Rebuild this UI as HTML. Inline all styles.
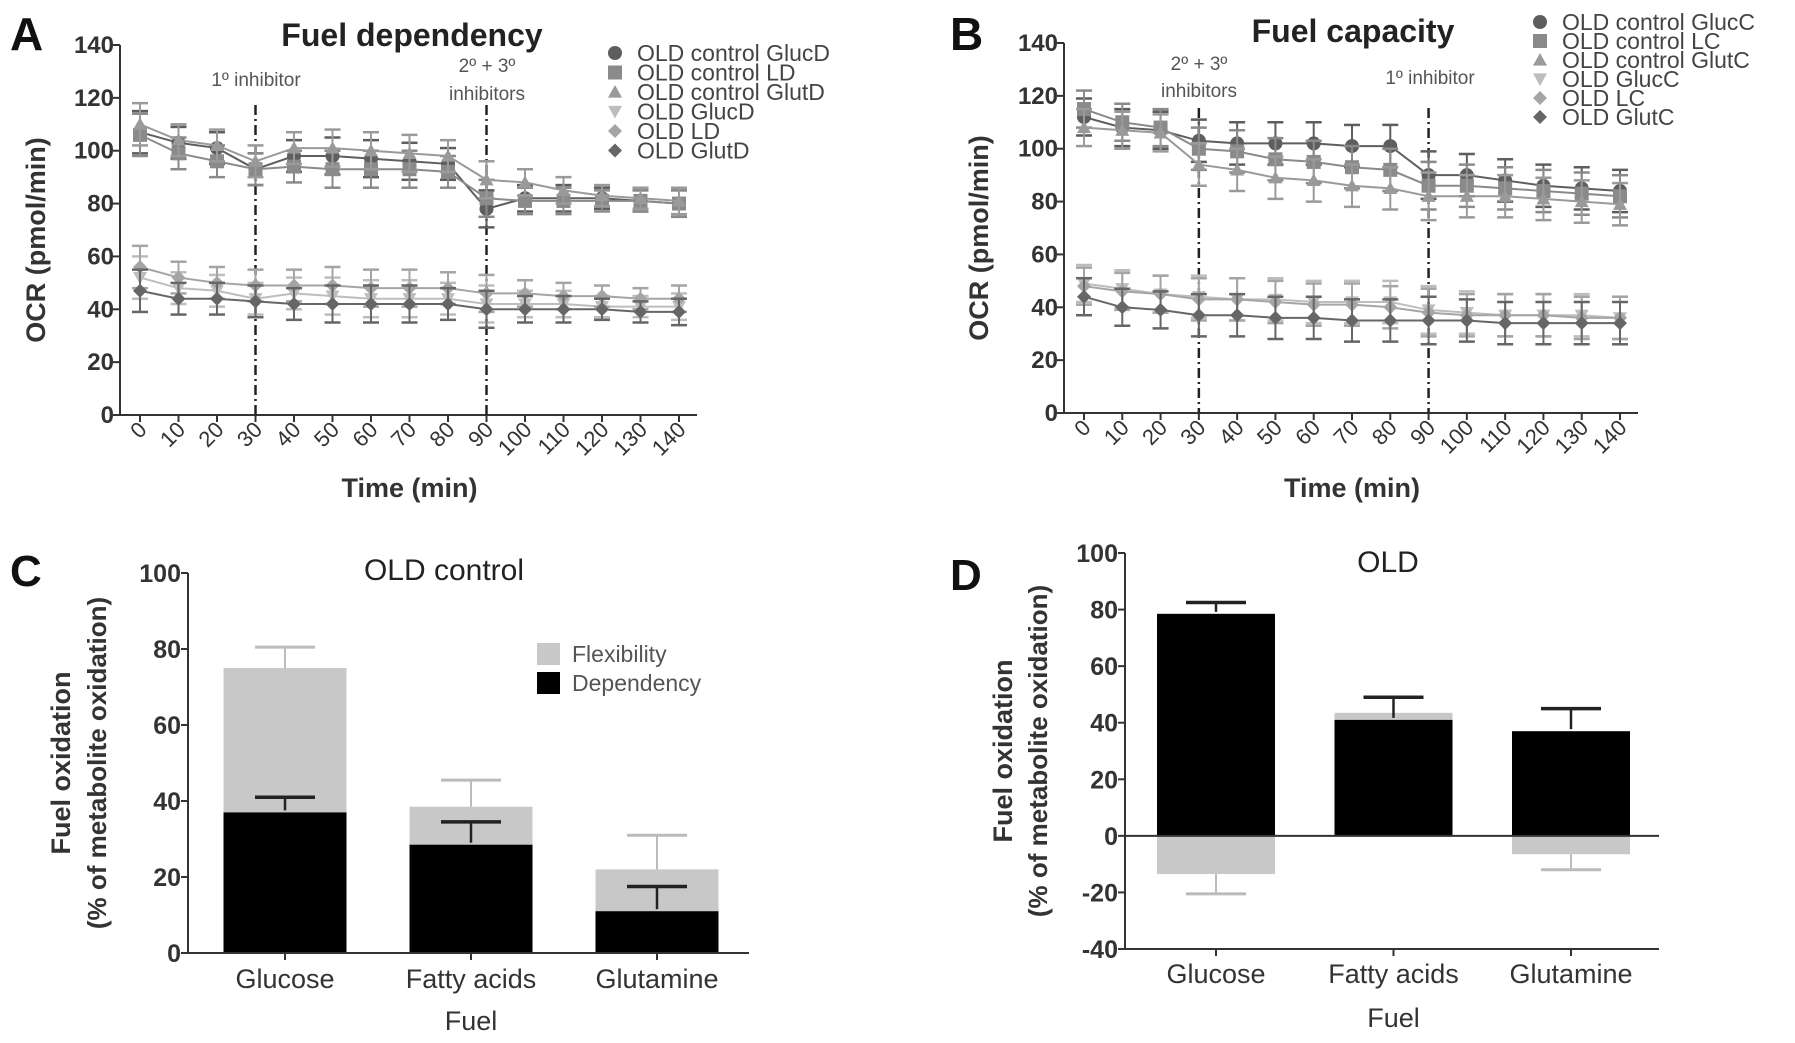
<!DOCTYPE html>
<html><head><meta charset="utf-8"><style>
html,body{margin:0;padding:0;background:#fff;}
svg{display:block;font-family:"Liberation Sans",Arial,sans-serif;}
</style></head><body>
<svg id="fig" width="1795" height="1043" viewBox="0 0 1795 1043" xmlns="http://www.w3.org/2000/svg"></svg>
<script>
// ---------- Panel A data ----------
const timesA = [0,10,20,30,40,50,60,70,80,90,100,110,120,130,140];
const aNames = ["OLD control GlucD","OLD control LD","OLD control GlutD","OLD GlucD","OLD LD","OLD GlutD"];
const aCtrlGluc = [107,103,101,93,98,98,97,96,95,78,82,82,82,81,80];
const aCtrlL    = [106,99,96,93,94,93,93,93,92,82,81,81,81,81,80];
const aCtrlGlut = [110,104,102,96,101,101,100,99,98,89,88,85,83,82,81];
const aOldGluc  = [52,48,47,44,46,45,44,44,44,42,42,42,41,41,41];
const aOldL     = [56,52,50,49,49,49,48,48,48,46,46,45,45,44,44];
const aOldGlut  = [47,44,44,43,42,42,42,42,42,40,40,40,40,39,39];
const aErr      = [8,6,6,6,6,7,7,7,6,7,5,5,4,4,5];
// ---------- Panel B data ----------
const bNames = ["OLD control GlucC","OLD control LC","OLD control GlutC","OLD GlucC","OLD LC","OLD GlutC"];
const bCtrlGluc = [112,108,107,103,102,102,102,101,101,90,90,88,86,85,84];
const bCtrlL    = [115,110,108,100,99,96,95,93,92,86,86,85,84,83,82];
const bCtrlGlut = [108,107,106,94,92,89,88,86,85,82,82,82,81,80,79];
const bOldGluc  = [49,47,45,44,43,43,42,42,42,39,38,37,37,37,36];
const bOldL     = [48,46,45,43,43,42,41,41,40,38,37,37,37,36,36];
const bOldGlut  = [44,40,39,37,37,36,36,35,35,35,35,34,34,34,34];
const bErr      = [7,7,7,8,8,8,8,8,8,9,8,8,8,8,8];
const yTicksAB = [0,20,40,60,80,100,120,140];
// ---------- Panel C data ----------
const fuels = ["Glucose","Fatty acids","Glutamine"];
const cDependency = [37,28.5,11];
const cFlexibility = [38,10,11];
const cDepErr = [4,6,6.5];
const cTotErr = [5.5,7,9];
const yTicksC = [0,20,40,60,80,100];
// ---------- Panel D data ----------
const dDependency = [78.5,41,37];
const dFlexibility = [-13.5,2.5,-6.5];
const dDepErr = [4,8,8];
const dFlexErr = [-7,0,-5.5];
const yTicksD = [-40,-20,0,20,40,60,80,100];

const NS="http://www.w3.org/2000/svg";
const svg=document.getElementById('fig');
function el(tag,attrs,parent){const e=document.createElementNS(NS,tag);for(const k in attrs)e.setAttribute(k,attrs[k]);(parent||svg).appendChild(e);return e;}
function txt(s,attrs,parent){const e=el('text',attrs,parent);e.textContent=s;return e;}

const seriesStyle=[
 {shape:'circle',color:'#5e5e5e'},{shape:'square',color:'#8a8a8a'},{shape:'tri',color:'#9a9a9a'},
 {shape:'itri',color:'#bdbdbd'},{shape:'diamond',color:'#a5a5a5'},{shape:'diamond',color:'#666'}];
function marker(shape,x,y,c,g,r){
  r=r||7;
  if(shape==='circle')return el('circle',{cx:x,cy:y,r:r,fill:c},g);
  if(shape==='square')return el('rect',{x:x-r,y:y-r,width:2*r,height:2*r,fill:c},g);
  if(shape==='tri')return el('polygon',{points:`${x},${y-r} ${x+r},${y+r*0.8} ${x-r},${y+r*0.8}`,fill:c},g);
  if(shape==='itri')return el('polygon',{points:`${x},${y+r} ${x+r},${y-r*0.8} ${x-r},${y-r*0.8}`,fill:c},g);
  return el('polygon',{points:`${x},${y-r} ${x+r},${y} ${x},${y+r} ${x-r},${y}`,fill:c},g);
}

function linePanel(cfg){
  const g=el('g',{});
  
  
  const X=t=>cfg.x0+(t-0)/140*(cfg.x1-cfg.x0);
  const Y=v=>cfg.y0-(v/140)*(cfg.y0-cfg.y140);
  const ax=el('line',{x1:cfg.ax,y1:cfg.y140,x2:cfg.ax,y2:cfg.y0,stroke:'#333','stroke-width':2},g);
  
  const xa=el('line',{x1:cfg.ax,y1:cfg.y0,x2:cfg.xend,y2:cfg.y0,stroke:'#333','stroke-width':2},g);
  
  yTicksAB.forEach(v=>{
    el('line',{x1:cfg.ax-7,y1:Y(v),x2:cfg.ax,y2:Y(v),stroke:'#333','stroke-width':2},g);
    const t=txt(String(v),{x:cfg.ax-6,y:Y(v)+8,'text-anchor':'end','font-size':24,'font-weight':'bold',fill:'#333'},g);
    
  });
  timesA.forEach(v=>{
    el('line',{x1:X(v),y1:cfg.y0,x2:X(v),y2:cfg.y0+7,stroke:'#333','stroke-width':2},g);
    const t=txt(String(v),{x:0,y:0,'text-anchor':'end','font-size':22,fill:'#333',transform:`translate(${X(v)+8},${cfg.y0+16}) rotate(-45)`},g);
    
  });
  cfg.vlines.forEach(v=>{
    const l=el('line',{x1:X(v),y1:cfg.vtop,x2:X(v),y2:cfg.y0,stroke:'#222','stroke-width':2.5,'stroke-dasharray':'10,4,2,4'},g);
    
  });
  cfg.notes.forEach(n=>{const t=txt(n.s,{x:n.x,y:n.y,'text-anchor':'middle','font-size':19,fill:'#555'},g);
    });
  cfg.series.forEach((s,i)=>{
    const st=seriesStyle[i];
    const sg=el('g',{},g);
    
    
    el('polyline',{points:s.map((v,j)=>X(timesA[j])+','+Y(v)).join(' '),fill:'none',stroke:st.color,'stroke-width':2},sg);
    s.forEach((v,j)=>{
      const e=cfg.err[j],x=X(timesA[j]);
      el('line',{x1:x,y1:Y(v-e),x2:x,y2:Y(v+e),stroke:st.color,'stroke-width':2},sg);
      el('line',{x1:x-8,y1:Y(v-e),x2:x+8,y2:Y(v-e),stroke:st.color,'stroke-width':2.5},sg);
      el('line',{x1:x-8,y1:Y(v+e),x2:x+8,y2:Y(v+e),stroke:st.color,'stroke-width':2.5},sg);
      const m=marker(st.shape,x,Y(v),st.color,sg);
      
    });
  });
  cfg.names.forEach((n,i)=>{
    const lg=el('g',{},g);
    
    const y=cfg.legY+i*cfg.legDy;
    marker(seriesStyle[i].shape,cfg.legX,y,seriesStyle[i].color,lg,7);
    txt(n,{x:cfg.legX+22,y:y+8,'font-size':23,fill:'#444'},lg);
  });
  const ti=txt(cfg.title,{x:cfg.titleX,y:cfg.titleY,'text-anchor':'middle','font-size':32,'font-weight':'bold',fill:'#222'},g);
  
  const pl=txt(cfg.letter,{x:cfg.letterX,y:cfg.letterY,'font-size':46,'font-weight':'bold',fill:'#111'},g);
  
  const yt=txt('OCR (pmol/min)',{x:0,y:0,'text-anchor':'middle','font-size':27,'font-weight':'bold',fill:'#333',transform:`translate(${cfg.ytX},${(cfg.y0+cfg.y140)/2+10}) rotate(-90)`},g);
  
  const xt=txt('Time (min)',{x:(cfg.x0+cfg.x1)/2,y:cfg.xtY,'text-anchor':'middle','font-size':27,'font-weight':'bold',fill:'#333'},g);
  
}

linePanel({name:'panel-a-fuel-dependency',ax:120,x0:140,x1:679,xend:697,y0:415,y140:45,vtop:105,
  vlines:[30,90],notes:[{s:'1º inhibitor',x:256,y:86},{s:'2º + 3º',x:487,y:72},{s:'inhibitors',x:487,y:100}],
  series:[aCtrlGluc,aCtrlL,aCtrlGlut,aOldGluc,aOldL,aOldGlut],err:aErr,names:aNames,
  legX:615,legY:53,legDy:19.5,title:'Fuel dependency',titleX:412,titleY:46,letter:'A',letterX:10,letterY:50,ytX:45,xtY:497});
linePanel({name:'panel-b-fuel-capacity',ax:1064,x0:1084,x1:1620,xend:1638,y0:413,y140:43,vtop:108,
  vlines:[30,90],notes:[{s:'2º + 3º',x:1199,y:70},{s:'inhibitors',x:1199,y:97},{s:'1º inhibitor',x:1430,y:84}],
  series:[bCtrlGluc,bCtrlL,bCtrlGlut,bOldGluc,bOldL,bOldGlut],err:bErr,names:bNames,
  legX:1540,legY:22,legDy:19,title:'Fuel capacity',titleX:1353,titleY:42,letter:'B',letterX:950,letterY:50,ytX:988,xtY:497});

function barPanel(cfg){
  const g=el('g',{});
  
  
  const Y=v=>cfg.yTop+(cfg.max-v)*(cfg.yBot-cfg.yTop)/(cfg.max-cfg.min);
  const X=i=>cfg.cx0+i*cfg.dx;
  const ya=el('line',{x1:cfg.ax,y1:Y(cfg.max),x2:cfg.ax,y2:Y(cfg.min),stroke:'#333','stroke-width':2},g);
  
  cfg.ticks.forEach(v=>{
    el('line',{x1:cfg.ax-7,y1:Y(v),x2:cfg.ax,y2:Y(v),stroke:'#333','stroke-width':2},g);
    const t=txt(String(v),{x:cfg.ax-7,y:Y(v)+9,'text-anchor':'end','font-size':25,'font-weight':'bold',fill:'#333'},g);
    
  });
  fuels.forEach((f,i)=>{
    const x=X(i),w=cfg.bw;
    const dep=cfg.dep[i],flex=cfg.flex[i];
    if(cfg.stack){
      const tot=dep+flex;
      el('line',{x1:x,y1:Y(tot),x2:x,y2:Y(tot+cfg.totErr[i]),stroke:'#bbb','stroke-width':2},g);
      el('line',{x1:x-30,y1:Y(tot+cfg.totErr[i]),x2:x+30,y2:Y(tot+cfg.totErr[i]),stroke:'#bbb','stroke-width':3},g);
    }
    let fy0,fy1;
    if(cfg.stack||flex>0){fy0=Y(dep+flex);fy1=Y(dep);}else{fy0=Y(0);fy1=Y(flex);}
    const fb=el('rect',{x:x-w/2,y:Math.min(fy0,fy1),width:w,height:Math.abs(fy1-fy0),fill:'#c8c8c8'},g);
    
    
    if(!cfg.stack && flex<0){
      el('line',{x1:x,y1:Y(flex),x2:x,y2:Y(flex+cfg.flexErr[i]),stroke:'#bbb','stroke-width':2},g);
      el('line',{x1:x-30,y1:Y(flex+cfg.flexErr[i]),x2:x+30,y2:Y(flex+cfg.flexErr[i]),stroke:'#bbb','stroke-width':3},g);
    }
    const db=el('rect',{x:x-w/2,y:Y(dep),width:w,height:Y(0)-Y(dep),fill:'#000'},g);
    
    
    el('line',{x1:x,y1:Y(dep)-2,x2:x,y2:Y(dep+cfg.depErr[i]),stroke:'#222','stroke-width':2.5},g);
    el('line',{x1:x-30,y1:Y(dep+cfg.depErr[i]),x2:x+30,y2:Y(dep+cfg.depErr[i]),stroke:'#222','stroke-width':3.5},g);
    el('line',{x1:x,y1:Y(cfg.min),x2:x,y2:Y(cfg.min)+7,stroke:'#333','stroke-width':2},g);
    const t=txt(f,{x:x,y:cfg.catY,'text-anchor':'middle','font-size':27,fill:'#333'},g);
    
  });
  const xa=el('line',{x1:cfg.ax,y1:Y(cfg.min),x2:cfg.xend,y2:Y(cfg.min),stroke:'#333','stroke-width':2},g);
  
  if(cfg.min<0){const z=el('line',{x1:cfg.ax,y1:Y(0),x2:cfg.xend,y2:Y(0),stroke:'#333','stroke-width':2},g);
    }
  const ti=txt(cfg.title,{x:cfg.titleX,y:cfg.titleY,'text-anchor':'middle','font-size':30,fill:'#222'},g);
  
  const pl=txt(cfg.letter,{x:cfg.letterX,y:cfg.letterY,'font-size':44,'font-weight':'bold',fill:'#111'},g);
  
  const cy=(Y(cfg.max)+Y(cfg.min))/2;
  const y1=txt('Fuel oxidation',{x:0,y:0,'text-anchor':'middle','font-size':27,'font-weight':'bold',fill:'#333',transform:`translate(${cfg.yt1},${cy}) rotate(-90)`},g);
  
  const y2=txt('(% of metabolite oxidation)',{x:0,y:0,'text-anchor':'middle','font-size':26,'font-weight':'bold',fill:'#333',transform:`translate(${cfg.yt2},${cy}) rotate(-90)`},g);
  
  const xt=txt('Fuel',{x:cfg.cx0+cfg.dx,y:cfg.fuelY,'text-anchor':'middle','font-size':27,fill:'#333'},g);
  
  return g;
}
const gc=barPanel({name:'panel-c-old-control',stack:true,ax:188,xend:749,yTop:573,yBot:953,max:100,min:0,ticks:yTicksC,
  cx0:285,dx:186,bw:123,dep:cDependency,flex:cFlexibility,depErr:cDepErr,totErr:cTotErr,catY:988,fuelY:1030,
  title:'OLD control',titleX:444,titleY:580,letter:'C',letterX:10,letterY:586,yt1:70,yt2:106});
barPanel({name:'panel-d-old',stack:false,ax:1125,xend:1659,yTop:553,yBot:949,max:100,min:-40,ticks:yTicksD,
  cx0:1216,dx:177.5,bw:118,dep:dDependency,flex:dFlexibility,depErr:dDepErr,flexErr:dFlexErr,catY:983,fuelY:1027,
  title:'OLD',titleX:1388,titleY:572,letter:'D',letterX:950,letterY:590,yt1:1012,yt2:1047});
const lf=el('g',{},gc);


el('rect',{x:537,y:643,width:23,height:22,fill:'#c8c8c8'},lf);
txt('Flexibility',{x:572,y:662,'font-size':23,fill:'#555'},lf);
const ld=el('g',{},gc);


el('rect',{x:537,y:672,width:23,height:22,fill:'#000'},ld);
txt('Dependency',{x:572,y:691,'font-size':23,fill:'#555'},ld);
</script>
</body></html>
